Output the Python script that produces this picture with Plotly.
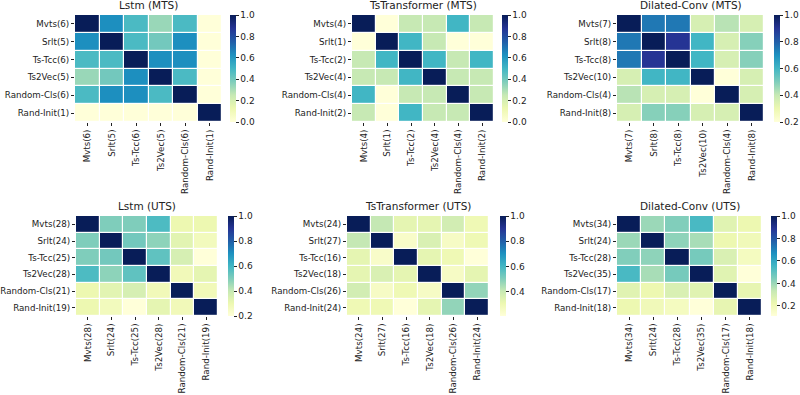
import plotly.graph_objects as go

# ---------------- data ----------------
titles = ["Lstm (MTS)", "TsTransformer (MTS)", "Dilated-Conv (MTS)",
          "Lstm (UTS)", "TsTransformer (UTS)", "Dilated-Conv (UTS)"]

labels_lstm_mts = ["Mvts(6)", "Srlt(5)", "Ts-Tcc(6)", "Ts2Vec(5)", "Random-Cls(6)", "Rand-Init(1)"]
labels_tst_mts = ["Mvts(4)", "Srlt(1)", "Ts-Tcc(2)", "Ts2Vec(4)", "Random-Cls(4)", "Rand-Init(2)"]
labels_dc_mts = ["Mvts(7)", "Srlt(8)", "Ts-Tcc(8)", "Ts2Vec(10)", "Random-Cls(4)", "Rand-Init(8)"]
labels_lstm_uts = ["Mvts(28)", "Srlt(24)", "Ts-Tcc(25)", "Ts2Vec(28)", "Random-Cls(21)", "Rand-Init(19)"]
labels_tst_uts = ["Mvts(24)", "Srlt(27)", "Ts-Tcc(16)", "Ts2Vec(18)", "Random-Cls(26)", "Rand-Init(24)"]
labels_dc_uts = ["Mvts(34)", "Srlt(24)", "Ts-Tcc(28)", "Ts2Vec(35)", "Random-Cls(17)", "Rand-Init(18)"]

z_lstm_mts = [
    [1.00, 0.63, 0.48, 0.33, 0.48, 0.00],
    [0.63, 1.00, 0.48, 0.40, 0.63, 0.00],
    [0.48, 0.48, 1.00, 0.63, 0.63, 0.00],
    [0.33, 0.40, 0.63, 1.00, 0.48, 0.00],
    [0.48, 0.63, 0.63, 0.48, 1.00, 0.00],
    [0.00, 0.00, 0.00, 0.00, 0.00, 1.00],
]
z_tst_mts = [
    [1.00, 0.00, 0.25, 0.25, 0.50, 0.25],
    [0.00, 1.00, 0.50, 0.25, 0.00, 0.00],
    [0.25, 0.50, 1.00, 0.50, 0.25, 0.50],
    [0.25, 0.25, 0.50, 1.00, 0.25, 0.25],
    [0.50, 0.00, 0.25, 0.25, 1.00, 0.25],
    [0.25, 0.00, 0.50, 0.25, 0.25, 1.00],
]
z_dc_mts = [
    [1.00, 0.75, 0.75, 0.36, 0.42, 0.36],
    [0.75, 1.00, 0.90, 0.60, 0.36, 0.49],
    [0.75, 0.90, 1.00, 0.60, 0.36, 0.49],
    [0.36, 0.60, 0.60, 1.00, 0.20, 0.36],
    [0.42, 0.36, 0.36, 0.20, 1.00, 0.36],
    [0.36, 0.49, 0.49, 0.36, 0.36, 1.00],
]
z_lstm_uts = [
    [1.00, 0.50, 0.50, 0.58, 0.30, 0.30],
    [0.50, 1.00, 0.52, 0.48, 0.33, 0.27],
    [0.50, 0.52, 1.00, 0.55, 0.36, 0.20],
    [0.58, 0.48, 0.55, 1.00, 0.28, 0.32],
    [0.30, 0.33, 0.36, 0.28, 1.00, 0.28],
    [0.30, 0.27, 0.20, 0.32, 0.28, 1.00],
]
z_tst_uts = [
    [1.00, 0.41, 0.33, 0.33, 0.38, 0.30],
    [0.41, 1.00, 0.25, 0.36, 0.26, 0.30],
    [0.33, 0.25, 1.00, 0.33, 0.30, 0.21],
    [0.33, 0.36, 0.33, 1.00, 0.26, 0.33],
    [0.38, 0.26, 0.30, 0.26, 1.00, 0.48],
    [0.30, 0.30, 0.21, 0.33, 0.48, 1.00],
]
z_dc_uts = [
    [1.00, 0.40, 0.44, 0.54, 0.26, 0.22],
    [0.40, 1.00, 0.42, 0.38, 0.22, 0.20],
    [0.44, 0.42, 1.00, 0.46, 0.28, 0.18],
    [0.54, 0.38, 0.46, 1.00, 0.26, 0.11],
    [0.26, 0.22, 0.28, 0.26, 1.00, 0.24],
    [0.22, 0.20, 0.18, 0.11, 0.24, 1.00],
]

all_labels = [labels_lstm_mts, labels_tst_mts, labels_dc_mts,
              labels_lstm_uts, labels_tst_uts, labels_dc_uts]
all_z = [z_lstm_mts, z_tst_mts, z_dc_mts, z_lstm_uts, z_tst_uts, z_dc_uts]

# ---------------- styling / layout ----------------
YLGNBU = [
    [0.0, "#ffffd9"], [0.125, "#edf8b1"], [0.25, "#c7e9b4"], [0.375, "#7fcdbb"],
    [0.5, "#41b6c4"], [0.625, "#1d91c0"], [0.75, "#225ea8"], [0.875, "#253494"],
    [1.0, "#081d58"],
]
W, H = 800, 395
# heatmap pixel boxes (left, right, top, bottom) and colorbar x
boxes = [
    (75, 222, 15, 122, 230),
    (352, 494, 15, 122, 502),
    (617, 764, 15, 122, 774),
    (76, 218, 216, 316, 228),
    (347, 489, 216, 316, 500),
    (617, 762, 216, 316, 771),
]
FONT = "DejaVu Sans"
TXT = "#222222"
TICK_SIZE = 8.7

fig = go.Figure()
annotations = []
layout_axes = {}
for i, (z, labs, title, box) in enumerate(zip(all_z, all_labels, titles, boxes)):
    l, r, t, b, cbx = box
    k = "" if i == 0 else str(i + 1)
    zmin = min(min(row) for row in z)
    zmax = max(max(row) for row in z)
    fig.add_trace(go.Heatmap(
        z=z, x=labs, y=labs, xaxis="x" + k, yaxis="y" + k,
        colorscale=YLGNBU, zmin=zmin, zmax=zmax, xgap=1.2, ygap=1.2,
        colorbar=dict(
            x=cbx / W, xanchor="left", y=1 - (t + b) / 2 / H, yanchor="middle",
            lenmode="pixels", len=b - t, thickness=5.5, thicknessmode="pixels",
            outlinewidth=0, xpad=0, ypad=0,
            tick0=0, dtick=0.2, tickformat=".1f",
            ticks="outside", ticklen=3, tickwidth=1, tickcolor=TXT,
            tickfont=dict(family=FONT, size=9, color=TXT),
        ),
    ))
    layout_axes["xaxis" + k] = dict(
        domain=[l / W, r / W], anchor="y" + k, type="category", automargin=False,
        showgrid=False, zeroline=False, showline=False,
        ticks="outside", ticklen=3, tickcolor=TXT, tickangle=-90,
        tickfont=dict(family=FONT, size=TICK_SIZE, color=TXT),
    )
    layout_axes["yaxis" + k] = dict(
        domain=[1 - b / H, 1 - t / H], anchor="x" + k, type="category",
        autorange="reversed", automargin=False,
        showgrid=False, zeroline=False, showline=False,
        ticks="outside", ticklen=3, tickcolor=TXT,
        tickfont=dict(family=FONT, size=TICK_SIZE, color=TXT),
    )
    annotations.append(dict(
        text=title, x=(l + r) / 2 / W, y=1 - (t - 2) / H, xref="paper", yref="paper",
        xanchor="center", yanchor="bottom", showarrow=False,
        font=dict(family=FONT, size=10.5, color=TXT),
    ))

fig.update_layout(
    width=W, height=H, margin=dict(l=0, r=0, t=0, b=0, autoexpand=False),
    paper_bgcolor="white", plot_bgcolor="white",
    annotations=annotations, **layout_axes,
)

fig.write_html(
    "out.html",
    config={"displayModeBar": False},
    post_script="document.body.style.margin='0';document.body.style.overflow='hidden';",
)
